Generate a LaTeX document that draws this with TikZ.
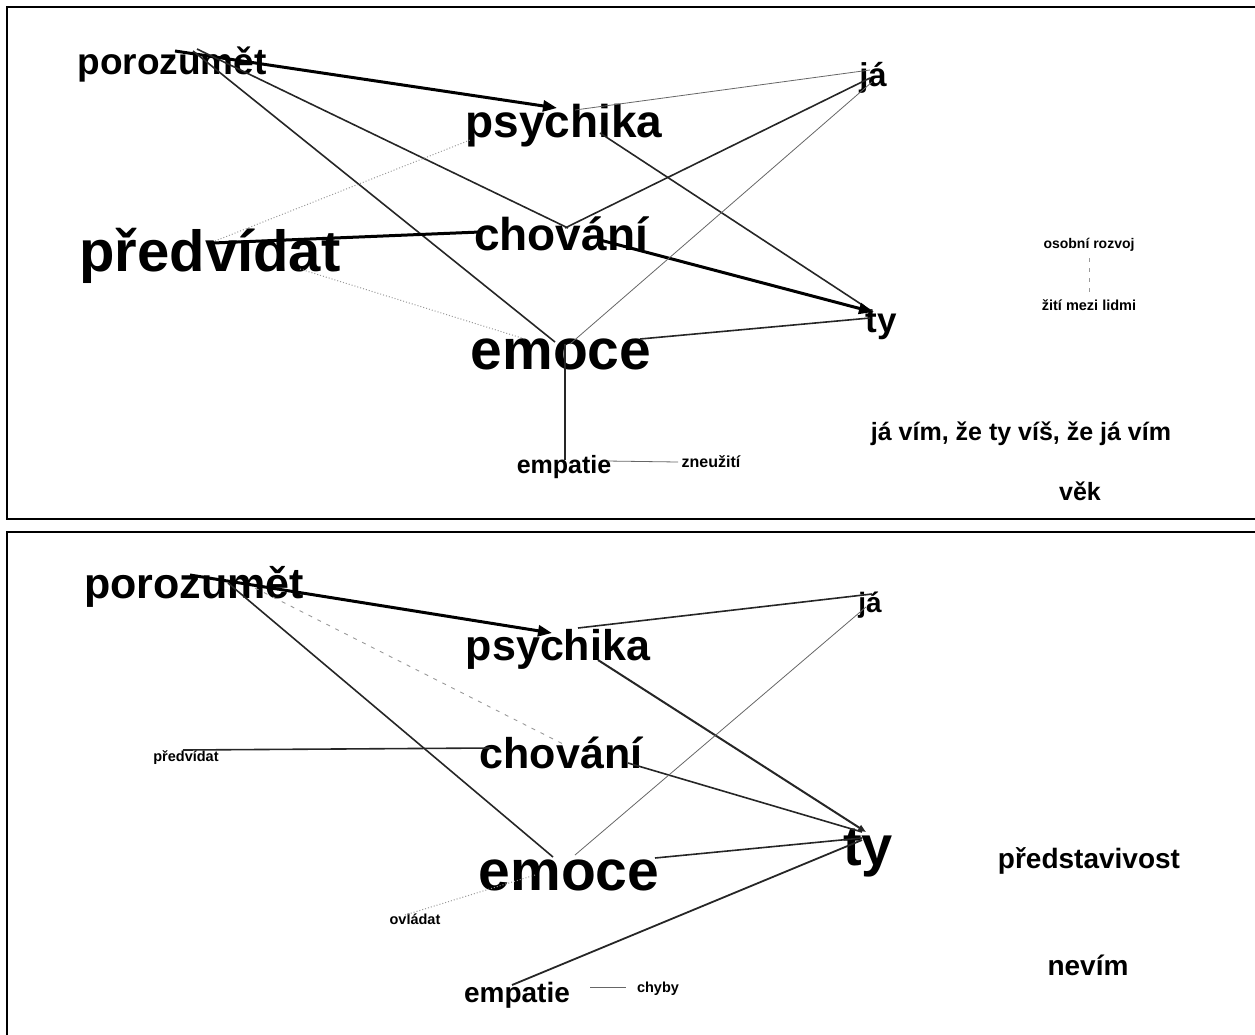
\documentclass[tikz,border=0pt]{standalone}
\usepackage{fontspec}
\setmainfont{Liberation Sans}
\usetikzlibrary{arrows.meta}
\tikzset{
  word/.style     = {inner sep=0pt, anchor=base, font=\bfseries\fontsize{#1}{#1}\selectfont},
  frame/.style    = {line width=2.2pt, draw=black},
  tie/.style      = {line width=1.6pt, draw=black!85},
  strong/.style   = {line width=3pt, draw=black},
  faint/.style    = {line width=0.8pt, draw=black!60},
  dotlink/.style  = {line width=1pt, draw=black!40, dotted},
  dashlink/.style = {line width=0.9pt, draw=black!40, dash pattern=on 4pt off 6pt},
  tip/.style      = {-{Triangle[length=14pt,width=11pt]}},
  smalltip/.style = {-{Triangle[length=8pt,width=6pt]}},
}

\begin{document}
\begin{tikzpicture}[x=1pt, y=-1pt]
  \useasboundingbox (0,0) rectangle (1255,1034);
  \clip (0,0) rectangle (1255,1034);
  % panel frames
  \draw[frame] (1270,7) -- (7,7) -- (7,519) -- (1270,519);
  \draw[frame] (1270,532) -- (7,532) -- (7,1045);

  % upper map
  \node[word=37] (poroT)  at (172,74)   {porozumět};
  \node[word=46] (psychT) at (564,137)  {psychika};
  \node[word=33] (jaT)    at (873,86)   {já};
  \node[word=58] (predT)  at (210,271)  {předvídat};
  \node[word=46] (chovT)  at (561,250)  {chování};
  \node[word=57] (emoceT) at (561,369)  {emoce};
  \node[word=35] (tyT)    at (881,332)  {ty};
  \node[word=25] (empT)   at (564,473)  {empatie};
  \node[word=16] (zneT)   at (711,467)  {zneužití};
  \node[word=14] (osobT)  at (1089,248) {osobní rozvoj};
  \node[word=14.5] (zitiT) at (1089,310) {žití mezi lidmi};
  \node[word=25] (vimT)   at (1021,440) {já vím, že ty víš, že já vím};
  \node[word=25] (vekT)   at (1080,500) {věk};

  \draw[strong, tip] ([shift={(3,-23)}]poroT.base) -- ([shift={(-7,-29)}]psychT.base);
  \draw[tie] ([shift={(25,-25)}]poroT.base) -- ([shift={(7,-22)}]chovT.base);
  \draw[tie] ([shift={(21,-23)}]poroT.base) -- ([shift={(-6,-27)}]emoceT.base);
  \draw[faint] ([shift={(11,-27)}]psychT.base) -- ([shift={(-3,-16)}]jaT.base);
  \draw[tie] ([shift={(36,-4)}]psychT.base) -- ([shift={(-8,-20)}]tyT.base);
  \draw[dotlink] ([shift={(5,-30)}]predT.base) -- ([shift={(-94,3)}]psychT.base);
  \draw[strong] ([shift={(3,-28)}]predT.base) -- ([shift={(-81,-18)}]chovT.base);
  \draw[dotlink] ([shift={(90,-2)}]predT.base) -- ([shift={(-36,-30)}]emoceT.base);
  \draw[tie] ([shift={(4,-22)}]chovT.base) -- ([shift={(-3,-8)}]jaT.base);
  \draw[strong, tip] ([shift={(39,-10)}]chovT.base) -- ([shift={(-8,-20)}]tyT.base);
  \draw[faint] ([shift={(9,-25)}]emoceT.base) -- ([shift={(-1,-4)}]jaT.base);
  \draw[tie] ([shift={(79,-30)}]emoceT.base) -- ([shift={(-11,-14)}]tyT.base);
  \draw[tie] ([shift={(4,-25)}]emoceT.base) -- ([shift={(1,-13)}]empT.base);
  \draw[faint] ([shift={(43,-12)}]empT.base) -- ([shift={(-33,-5)}]zneT.base);
  \draw[dashlink] ([shift={(0,10)}]osobT.base) -- ([shift={(0,-17)}]zitiT.base);

  % lower map
  \node[word=43] (poroB)   at (194,598)  {porozumět};
  \node[word=43] (psychB)  at (558,660)  {psychika};
  \node[word=28] (jaB)     at (870,612)  {já};
  \node[word=14.5] (predB) at (186,761)  {předvídat};
  \node[word=43] (chovB)   at (561,768)  {chování};
  \node[word=57] (emoceB)  at (569,890)  {emoce};
  \node[word=56] (tyB)     at (868,865)  {ty};
  \node[word=28] (predstB) at (1089,868) {představivost};
  \node[word=28] (nevimB)  at (1088,975) {nevím};
  \node[word=14.5] (ovlB)  at (415,924)  {ovládat};
  \node[word=28] (empB)    at (517,1002) {empatie};
  \node[word=14.5] (chybyB) at (658,992) {chyby};

  \draw[strong, tip] ([shift={(-4,-23)}]poroB.base) -- ([shift={(-6,-27)}]psychB.base);
  \draw[tie] ([shift={(34,-15)}]poroB.base) -- ([shift={(-16,-33)}]emoceB.base);
  \draw[dashlink] ([shift={(61,-10)}]poroB.base) -- ([shift={(4,-23)}]chovB.base);
  \draw[tie] ([shift={(20,-32)}]psychB.base) -- ([shift={(2,-18)}]jaB.base);
  \draw[tie, line width=2pt, smalltip] ([shift={(40,0)}]psychB.base) -- ([shift={(-2,-33)}]tyB.base);
  \draw[tie] ([shift={(-3,-11)}]predB.base) -- ([shift={(-71,-20)}]chovB.base);
  \draw[tie] ([shift={(67,-5)}]chovB.base) -- ([shift={(-6,-33)}]tyB.base);
  \draw[faint] ([shift={(6,-35)}]emoceB.base) -- ([shift={(-4,-5)}]jaB.base);
  \draw[tie] ([shift={(86,-32)}]emoceB.base) -- ([shift={(-6,-27)}]tyB.base);
  \draw[dotlink] ([shift={(-10,-9)}]ovlB.base) -- ([shift={(-34,-15)}]emoceB.base);
  \draw[tie, line width=1.8pt] ([shift={(-5,-17)}]empB.base) -- ([shift={(-6,-25)}]tyB.base);
  \draw[faint] ([shift={(73,-15)}]empB.base) -- ([shift={(-32,-5)}]chybyB.base);
\end{tikzpicture}
\end{document}
